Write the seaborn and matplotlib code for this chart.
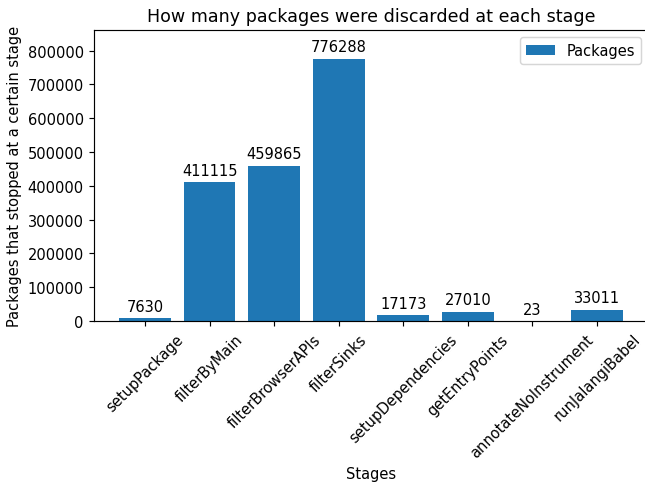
import matplotlib
matplotlib.use("Agg")
import matplotlib.pyplot as plt
import seaborn as sns
import pandas as pd

# Datos
etapas = ['setupPackage', 'filterByMain', 'filterBrowserAPIs', 'filterSinks',
          'setupDependencies', 'getEntryPoints', 'annotateNoInstrument', 'runJalangiBabel']
paquetes = [7630, 411115, 459865, 776288, 17173, 27010, 23, 33011]


def main():
    # Estilo por defecto de matplotlib, como en el original
    plt.style.use('default')
    plt.rcParams['font.family'] = ['DejaVu Sans']

    df = pd.DataFrame({'Stages': etapas, 'Packages': paquetes})

    dpi = 105
    fig, ax = plt.subplots(figsize=(645 / dpi, 483 / dpi), dpi=dpi)
    sns.barplot(data=df, x='Stages', y='Packages', color='#1f77b4', saturation=1,
                width=0.8, linewidth=0, label='Packages', ax=ax)
    ax.bar_label(ax.containers[0], padding=3)

    ax.set_xlim(-0.79, len(etapas) - 1 + 0.79)
    ax.set_ylim(0, 861000)
    ax.set_title('How many packages were discarded at each stage')
    ax.set_xlabel('Stages')
    ax.set_ylabel('Packages that stopped at a certain stage')
    plt.xticks(rotation=45)
    ax.legend(loc='upper right')

    # el original queda recortado por la derecha
    ax.set_position([94 / 645, 1 - 322 / 483, (648 - 94) / 645, (322 - 31) / 483])
    fig.savefig('out.png', dpi=dpi)
    plt.close()


if __name__ == "__main__":
    main()
